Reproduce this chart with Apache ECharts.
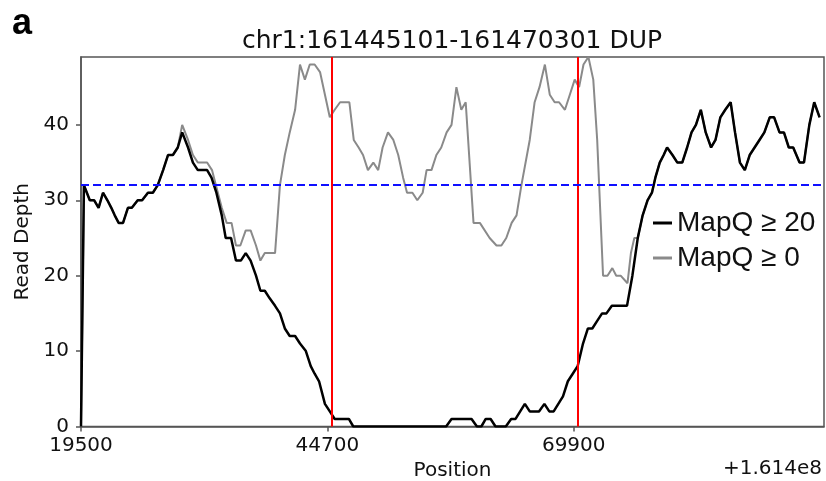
<!DOCTYPE html>
<html>
<head>
<meta charset="utf-8">
<script src="https://cdn.jsdelivr.net/npm/echarts@6/dist/echarts.min.js"></script>
<style>
html, body { margin: 0; padding: 0; background: #fff; }
#chart { width: 826px; height: 481px; }
</style>
</head>
<body>
<div id="chart"></div>
<script>
// read depth, MapQ >= 20
const posHigh = [19500, 19800, 20400, 20850, 21300, 21750, 22200, 22600, 22950, 23350, 23800, 24300, 24700, 25300, 25750, 26350, 26850, 27350, 27900, 28400, 28900, 29400, 29850, 30450, 30950, 31450, 32400, 32850, 33350, 33900, 34300, 34850, 35350, 35850, 36350, 36850, 37400, 37850, 38300, 38800, 39350, 39850, 40350, 40850, 41400, 41900, 42500, 43000, 43400, 43850, 44450, 44950, 45450, 46900, 47350, 56850, 57400, 59450, 60000, 60450, 60900, 61400, 61900, 62950, 63500, 63950, 64900, 65400, 66350, 66900, 67400, 67850, 68800, 69300, 69800, 70300, 70850, 71350, 71800, 72300, 72800, 73250, 73800, 75350, 75900, 76450, 76950, 77450, 77900, 78250, 78700, 79100, 79450, 80000, 80500, 81000, 81500, 81950, 82400, 82900, 83400, 83950, 84400, 84900, 85400, 85950, 86400, 86900, 87400, 87900, 88400, 88900, 89400, 89950, 90400, 90950, 91400, 91900, 92350, 93000, 93450, 94000, 94500, 95050];
const depthHigh = [0, 32, 30, 30, 29, 31, 30, 29, 28, 27, 27, 29, 29, 30, 30, 31, 31, 32, 34, 36, 36, 37, 39, 37, 35, 34, 34, 33, 31, 28, 25, 25, 22, 22, 23, 22, 20, 18, 18, 17, 16, 15, 13, 12, 12, 11, 10, 8, 7, 6, 3, 2, 1, 1, 0, 0, 1, 1, 0, 0, 1, 1, 0, 0, 1, 1, 3, 2, 2, 3, 2, 2, 4, 6, 7, 8, 11, 13, 13, 14, 15, 15, 16, 16, 20, 25, 28, 30, 31, 33, 35, 36, 37, 36, 35, 35, 37, 39, 40, 42, 39, 37, 38, 41, 42, 43, 39, 35, 34, 36, 37, 38, 39, 41, 41, 39, 39, 37, 37, 35, 35, 40, 43, 41];

// read depth, MapQ >= 0
const posAll = [19500, 19800, 20400, 20850, 21300, 21750, 22200, 22600, 22950, 23350, 23800, 24300, 24700, 25300, 25750, 26350, 26850, 27350, 27900, 28400, 28900, 29400, 29850, 30450, 30950, 31450, 32400, 32900, 33300, 33900, 34400, 34900, 35350, 35800, 36350, 36850, 37400, 37850, 38300, 39350, 39850, 40350, 40850, 41400, 41900, 42400, 42900, 43400, 43950, 44950, 45450, 46000, 46950, 47400, 47900, 48350, 48850, 49400, 49900, 50350, 50900, 51450, 51950, 52450, 52850, 53400, 53900, 54450, 54850, 55350, 55850, 56350, 56900, 57400, 57900, 58400, 58850, 59650, 60300, 61300, 62000, 62500, 63000, 63550, 64050, 64550, 65400, 65900, 66400, 66950, 67450, 67950, 68400, 69000, 69500, 70000, 70450, 70900, 71400, 71900, 72300, 72900, 73350, 73850, 74250, 74700, 75400, 75750, 76100, 76450, 76950, 77450, 77900, 78250, 78700, 79100, 79450, 80000, 80500, 81000, 81500, 81950, 82400, 82900, 83400, 83950, 84400, 84900, 85400, 85950, 86400, 86900, 87400, 87900, 88400, 88900, 89400, 89950, 90400, 90950, 91400, 91900, 92350, 93000, 93450, 94000, 94500, 95050];
const depthAll = [0, 32, 30, 30, 29, 31, 30, 29, 28, 27, 27, 29, 29, 30, 30, 31, 31, 32, 34, 36, 36, 37, 40, 38, 36, 35, 35, 34, 32, 29, 27, 27, 24, 24, 26, 26, 24, 22, 23, 23, 32, 36, 39, 42, 48, 46, 48, 48, 47, 41, 42, 43, 43, 38, 37, 36, 34, 35, 34, 37, 39, 38, 36, 33, 31, 31, 30, 31, 34, 34, 36, 37, 39, 40, 45, 42, 43, 27, 27, 25, 24, 24, 25, 27, 28, 32, 38, 43, 45, 48, 44, 43, 43, 42, 44, 46, 45, 48, 49, 46, 38, 20, 20, 21, 20, 20, 19, 23, 25, 25, 28, 30, 31, 33, 35, 36, 37, 36, 35, 35, 37, 39, 40, 42, 39, 37, 38, 41, 42, 43, 39, 35, 34, 36, 37, 38, 39, 41, 41, 39, 39, 37, 37, 35, 35, 40, 43, 41];

const xTicks = [19500, 44700, 69900];
const yTicks = [0, 10, 20, 30, 40];
const breakpoints = [45101, 70301];
const meanDepth = 32;

const chart = echarts.init(document.getElementById('chart'));
const pairs = (xs, ys) => xs.map((x, i) => [x, ys[i]]);
const tickFont = 'DejaVu Sans';
const frameColor = '#555';

const option = {
  animation: false,
  backgroundColor: '#fff',
  title: [
    {
      text: 'a',
      left: 12,
      top: 6,
      padding: 0,
      textStyle: { fontFamily: 'Liberation Sans', fontWeight: 'bold', fontSize: 36, color: '#000' }
    },
    {
      text: 'chr1:161445101-161470301 DUP',
      left: 452,
      top: 29,
      padding: 0,
      textAlign: 'center',
      textStyle: { fontFamily: tickFont, fontWeight: 'normal', fontSize: 25, color: '#111' }
    }
  ],
  legend: {
    orient: 'vertical',
    left: 653,
    top: 209,
    padding: 0,
    itemWidth: 19,
    itemHeight: 3,
    itemGap: 7,
    textStyle: { fontFamily: 'Liberation Sans', fontSize: 28, color: '#111' },
    data: [
      { name: 'MapQ ≥ 20', icon: 'rect' },
      { name: 'MapQ ≥ 0', icon: 'rect' }
    ]
  },
  grid: {
    left: 81,
    right: 2,
    top: 57,
    bottom: 54.5,
    outerBoundsMode: 'none',
    containLabel: false,
    show: true,
    borderColor: frameColor,
    borderWidth: 1.5
  },
  xAxis: {
    type: 'value',
    min: 19500,
    max: 95500,
    name: 'Position',
    nameLocation: 'middle',
    nameGap: 32,
    nameTextStyle: { fontFamily: tickFont, fontSize: 20, color: '#111' },
    axisLine: { lineStyle: { color: frameColor, width: 1.5 } },
    axisTick: { length: 5, customValues: xTicks, lineStyle: { color: frameColor, width: 1.5 } },
    axisLabel: {
      customValues: xTicks,
      margin: 9,
      formatter: v => String(v),
      fontFamily: tickFont,
      fontSize: 20,
      color: '#111'
    },
    splitLine: { show: false }
  },
  yAxis: {
    type: 'value',
    min: 0,
    max: 49,
    name: 'Read Depth',
    nameLocation: 'middle',
    nameGap: 44,
    nameTextStyle: { fontFamily: tickFont, fontSize: 20, color: '#111' },
    axisLine: { show: true, lineStyle: { color: frameColor, width: 1.5 } },
    axisTick: { show: true, length: 5, customValues: yTicks, lineStyle: { color: frameColor, width: 1.5 } },
    axisLabel: { customValues: yTicks, margin: 12, fontFamily: tickFont, fontSize: 20, color: '#111' },
    splitLine: { show: false }
  },
  graphic: [
    {
      type: 'text',
      right: 4,
      top: 459,
      style: { text: '+1.614e8', fontFamily: tickFont, fontSize: 20, fill: '#111' }
    }
  ],
  series: [
    {
      name: 'MapQ ≥ 0',
      type: 'line',
      data: pairs(posAll, depthAll),
      showSymbol: false,
      z: 2,
      itemStyle: { color: '#8a8a8a' },
      lineStyle: { color: '#8a8a8a', width: 2 }
    },
    {
      name: 'MapQ ≥ 20',
      type: 'line',
      data: pairs(posHigh, depthHigh),
      showSymbol: false,
      z: 3,
      itemStyle: { color: '#000' },
      lineStyle: { color: '#000', width: 2.5 },
      markLine: {
        silent: true,
        symbol: 'none',
        label: { show: false },
        data: [
          ...breakpoints.map(b => ({ xAxis: b, lineStyle: { color: '#ff0000', width: 2, type: 'solid' } })),
          { yAxis: meanDepth, lineStyle: { color: '#1010ff', width: 2, type: [8, 4] } }
        ]
      }
    }
  ]
};

chart.setOption(option);
</script>
</body>
</html>
